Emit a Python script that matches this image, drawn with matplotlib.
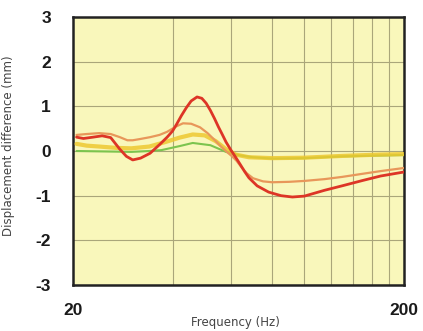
import matplotlib
matplotlib.use("Agg")
import matplotlib.pyplot as plt
from matplotlib.ticker import FixedLocator, NullLocator

plt.rcParams["axes.unicode_minus"] = False

# --- data (frequency in Hz, displacement diff in mm) ---
red_f = [20.5, 21.5, 23, 24.5, 26, 27.7, 29, 30.3, 32, 34.2, 36.6, 38.5, 40,
         41.2, 42.5, 44, 45.5, 47.4, 49, 50.5, 52, 53.5, 55, 56.5, 58, 60,
         62, 64, 66, 68, 72, 78, 85, 92, 100, 115, 130, 150, 170, 200]
red_v = [0.31, 0.28, 0.31, 0.34, 0.30, 0.04, -0.12, -0.20, -0.16, -0.05, 0.15,
         0.31, 0.45, 0.61, 0.79, 0.97, 1.12, 1.21, 1.18, 1.07, 0.91, 0.73,
         0.54, 0.37, 0.20, 0.02, -0.14, -0.30, -0.46, -0.60, -0.78, -0.92,
         -1.00, -1.03, -1.01, -0.88, -0.78, -0.66, -0.56, -0.47]

orange_f = [20.5, 22, 24, 26, 27.7, 29.2, 30.3, 32, 34.2, 36.5, 38.5, 41, 43,
            45.5, 48.4, 51, 53.5, 56, 58.3, 60.5, 62.4, 64.5, 67, 70, 75, 80,
            90, 100, 115, 130, 150, 170, 200]
orange_v = [0.36, 0.38, 0.40, 0.38, 0.31, 0.24, 0.24, 0.27, 0.31, 0.36, 0.43,
            0.55, 0.62, 0.61, 0.53, 0.40, 0.25, 0.10, -0.02, -0.12, -0.22,
            -0.36, -0.50, -0.61, -0.68, -0.70, -0.69, -0.67, -0.63, -0.58,
            -0.51, -0.45, -0.38]

yellow_f = [20.5, 22, 24, 27, 30, 34, 38, 42, 46, 50, 54, 58, 62, 68, 80, 100,
            130, 170, 200]
yellow_v = [0.16, 0.12, 0.10, 0.07, 0.06, 0.10, 0.20, 0.30, 0.37, 0.35, 0.22,
            0.04, -0.08, -0.14, -0.16, -0.15, -0.11, -0.08, -0.07]

green_f = [20.5, 25, 30, 34, 37, 42, 46, 52, 58, 64, 70, 80, 100, 130, 170, 200]
green_v = [0.0, -0.01, -0.02, 0.0, 0.02, 0.11, 0.18, 0.13, -0.02, -0.10, -0.14,
           -0.17, -0.16, -0.12, -0.10, -0.09]

y_ticks = [-3, -2, -1, 0, 1, 2, 3]
x_grid = [40, 60, 80, 100, 120, 140, 160, 180]
x_labels = {20: "20", 200: "200"}

fig = plt.figure(figsize=(4.23, 3.31), dpi=100)
ax = fig.add_axes([73 / 423, 46 / 331, 331 / 423, 268 / 331])
ax.set_facecolor("#f9f7bb")

ax.set_xscale("log")
ax.set_xlim(20, 200)
ax.set_ylim(-3, 3)

style = dict(solid_joinstyle="round", solid_capstyle="round")
ax.plot(green_f, green_v, color="#7cc44e", linewidth=1.5, zorder=3, **style)
ax.plot(yellow_f, yellow_v, color="#eec830", linewidth=3.0, alpha=0.85,
        zorder=4, **style)
ax.plot(orange_f, orange_v, color="#e8975a", linewidth=1.6, zorder=5, **style)
ax.plot(red_f, red_v, color="#dd3526", linewidth=2.0, zorder=6, **style)

# ticks / grid
ax.yaxis.set_major_locator(FixedLocator(y_ticks))
ax.xaxis.set_major_locator(FixedLocator(list(x_labels)))
ax.xaxis.set_minor_locator(NullLocator())
ax.set_xticklabels(list(x_labels.values()))
for v in x_grid:
    ax.axvline(v, color="#aaa67a", linewidth=0.8, zorder=1)
for v in y_ticks:
    ax.axhline(v, color="#aaa67a", linewidth=0.8, zorder=1)

ax.tick_params(axis="both", length=0, labelsize=12.5)
ax.tick_params(axis="y", pad=16)
ax.tick_params(axis="x", pad=13)
for lab in ax.get_xticklabels() + ax.get_yticklabels():
    lab.set_fontweight("bold")
    lab.set_fontfamily("Liberation Sans")
    lab.set_color("#1a1a1a")

for sp in ax.spines.values():
    sp.set_linewidth(1.8)
    sp.set_color("#222222")

ax.set_xlabel("Frequency (Hz)", fontsize=8.5, color="#444444")
ax.xaxis.set_label_coords(0.49, -0.115)
ax.set_ylabel("Displacement difference (mm)", fontsize=8.5, color="#444444")
ax.yaxis.set_label_coords(-0.175, 0.52)

fig.savefig("out.png", dpi=100)
